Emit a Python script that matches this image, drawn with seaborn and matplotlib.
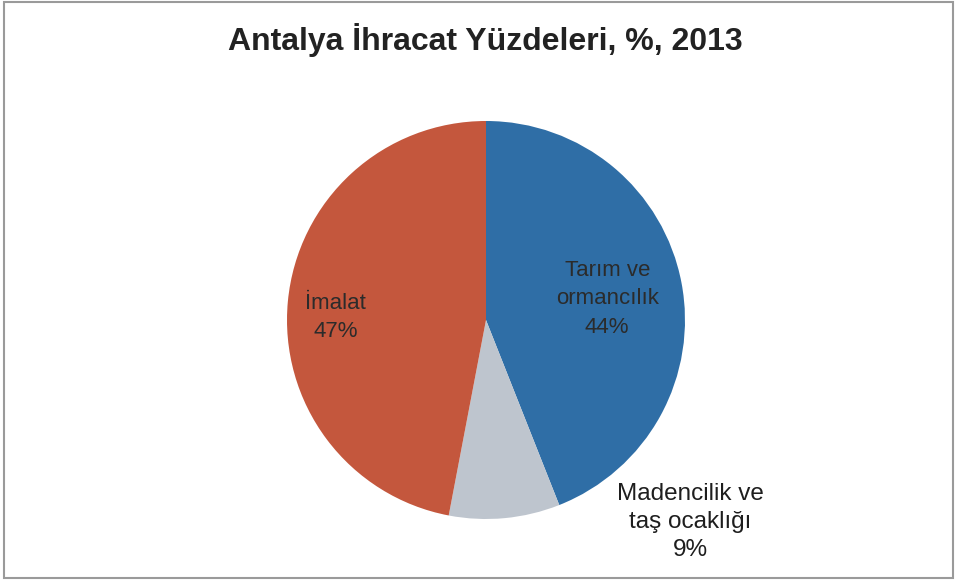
import numpy as np
import matplotlib
matplotlib.use("Agg")
import matplotlib.pyplot as plt
from matplotlib.patches import Rectangle
import seaborn as sns

# Export shares by sector, Antalya 2013
sectors = ["Tarım ve\normancılık", "Madencilik ve\ntaş ocaklığı", "İmalat"]
shares = [44, 9, 47]
colors = ["#2f6ea6", "#bec5ce", "#c4573d"]
title = "Antalya İhracat Yüzdeleri, %, 2013"

sns.set_theme(style="white")
plt.rcParams["font.family"] = ["Liberation Sans", "DejaVu Sans"]

W, H = 957, 580
fig = plt.figure(figsize=(W / 100, H / 100), dpi=100)
ax = fig.add_axes([0, 0, 1, 1])

cx, cy, r = 486, H - 320, 199
wedges, _ = ax.pie(shares, colors=colors, startangle=90, counterclock=False,
                   center=(cx, cy), radius=r, frame=True,
                   wedgeprops=dict(linewidth=0))
ax.set_xlim(0, W)
ax.set_ylim(0, H)
ax.set_aspect("equal")
ax.axis("off")

# inner labels sit along each wedge's bisector (radial fraction, vertical nudge)
inner = {0: (0.62, -2), 2: (0.76, -12)}
for i, (frac, dy) in inner.items():
    w = wedges[i]
    mid = np.deg2rad((w.theta1 + w.theta2) / 2)
    x = cx + frac * r * np.cos(mid)
    y = cy + frac * r * np.sin(mid) + dy
    ax.text(x, y, f"{sectors[i]}\n{shares[i]}%", ha="center", va="center",
            fontsize=16, color="#2b2b2b", linespacing=1.45)

# small slice labelled outside, lower right
ax.text(690, H - 522, f"{sectors[1]}\n{shares[1]}%", ha="center", va="center",
        fontsize=17.5, color="#1e1e1e", linespacing=1.33)

fig.text(0.507, 1 - 40 / H, title, ha="center", va="center",
         fontsize=23, fontweight="bold", color="#222222")

fig.add_artist(Rectangle((0.004, 0.004), 0.992, 0.992, transform=fig.transFigure,
                         fill=False, edgecolor="#9a9a9a", linewidth=1.5))

fig.savefig("out.png", dpi=100, facecolor="white")
